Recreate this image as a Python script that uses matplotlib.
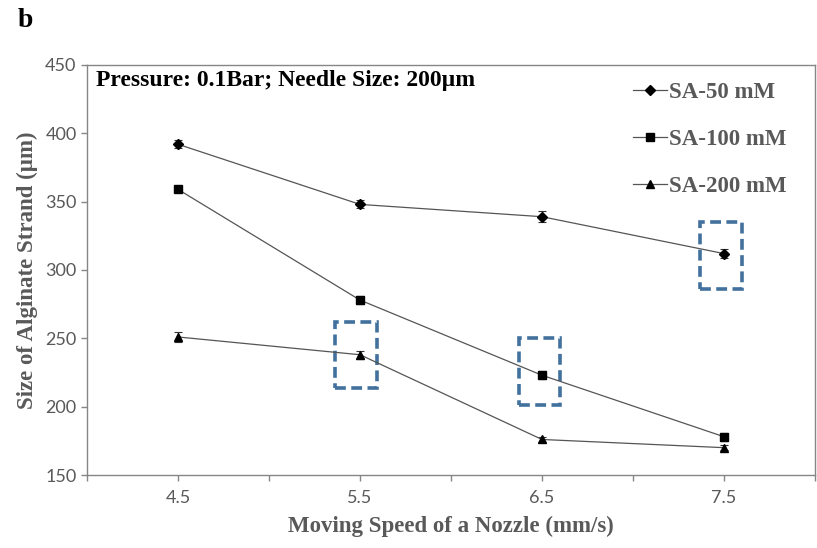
import matplotlib
matplotlib.use("Agg")
import matplotlib.pyplot as plt
from matplotlib.patches import Rectangle

# measured strand sizes (um) vs nozzle speed (mm/s)
speeds = [4.5, 5.5, 6.5, 7.5]
sa50 = [392, 348, 339, 312]
sa50_err = [3, 3, 4, 3]
sa100 = [359, 278, 223, 178]
sa100_err = [2, 3, 3, 3]
sa200 = [251, 238, 176, 170]
sa200_err = [4, 3, 2, 2]
labels = ["SA-50 mM", "SA-100 mM", "SA-200 mM"]
markers = ["D", "s", "^"]
marker_sizes = [5, 5.5, 6]

# highlighted points: dashed boxes around them
box_centers_x = [7.485, 5.478, 6.486]
box_y0 = [286, 214, 201]
box_y1 = [335, 262, 250]

GRAY = "#595959"
SERIF = ["Liberation Serif", "DejaVu Serif"]

fig = plt.figure(figsize=(8.17, 5.48), dpi=100)
ax = fig.add_axes([0.1065, 0.1332, 0.891, 0.7482])

series = [(sa50, sa50_err), (sa100, sa100_err), (sa200, sa200_err)]
for (ys, errs), lab, mk, ms in zip(series, labels, markers, marker_sizes):
    ax.plot(speeds, ys, color="#555555", lw=0.9, marker=mk, ms=ms,
            mfc="black", mec="black", label=lab, zorder=3)
    ax.errorbar(speeds, ys, yerr=errs, fmt="none", ecolor="#333333",
                elinewidth=0.8, capsize=3, capthick=0.8, zorder=2)

for cx, y0, y1 in zip(box_centers_x, box_y0, box_y1):
    ax.add_patch(Rectangle((cx - 0.115, y0), 0.23, y1 - y0, fill=False,
                           edgecolor="#41719C", lw=2.6, ls=(0, (3, 1.5))))

ax.set_xlim(4, 8)
ax.set_ylim(150, 450)
ax.set_xticks([4 + 0.5 * i for i in range(9)])
ax.set_xticklabels(["", "4.5", "", "5.5", "", "6.5", "", "7.5", ""])
ax.set_yticks(range(150, 451, 50))

for s in ax.spines.values():
    s.set_color("#868686")
    s.set_linewidth(1.0)
ax.tick_params(axis="both", colors="#868686", labelcolor=GRAY,
               labelsize=13, length=4, width=1.0)
ax.tick_params(axis="x", pad=7)
for t in ax.get_xticklabels() + ax.get_yticklabels():
    t.set_family(["Lato", "DejaVu Sans"])

ax.set_xlabel("Moving Speed of a Nozzle (mm/s)", family=SERIF,
              fontweight="bold", fontsize=16.5, color=GRAY, labelpad=7)
ax.set_ylabel("Size of Alginate Strand (\u00b5m)", family=SERIF,
              fontweight="bold", fontsize=16.5, color=GRAY, labelpad=5)

ax.text(0.012, 0.988, "Pressure: 0.1Bar; Needle Size: 200\u00b5m",
        transform=ax.transAxes, ha="left", va="top", family=SERIF,
        fontweight="bold", fontsize=17, color="black")
fig.text(0.022, 0.962, "b", family=SERIF, fontweight="bold", fontsize=20,
         ha="left", va="center")

leg = ax.legend(loc="upper right", bbox_to_anchor=(0.99, 1.01), frameon=False,
                handlelength=1.5, handletextpad=0.1, labelspacing=1.15,
                prop={"family": SERIF, "weight": "bold", "size": 16.5})
for t in leg.get_texts():
    t.set_color(GRAY)

fig.savefig("out.png", dpi=100)
